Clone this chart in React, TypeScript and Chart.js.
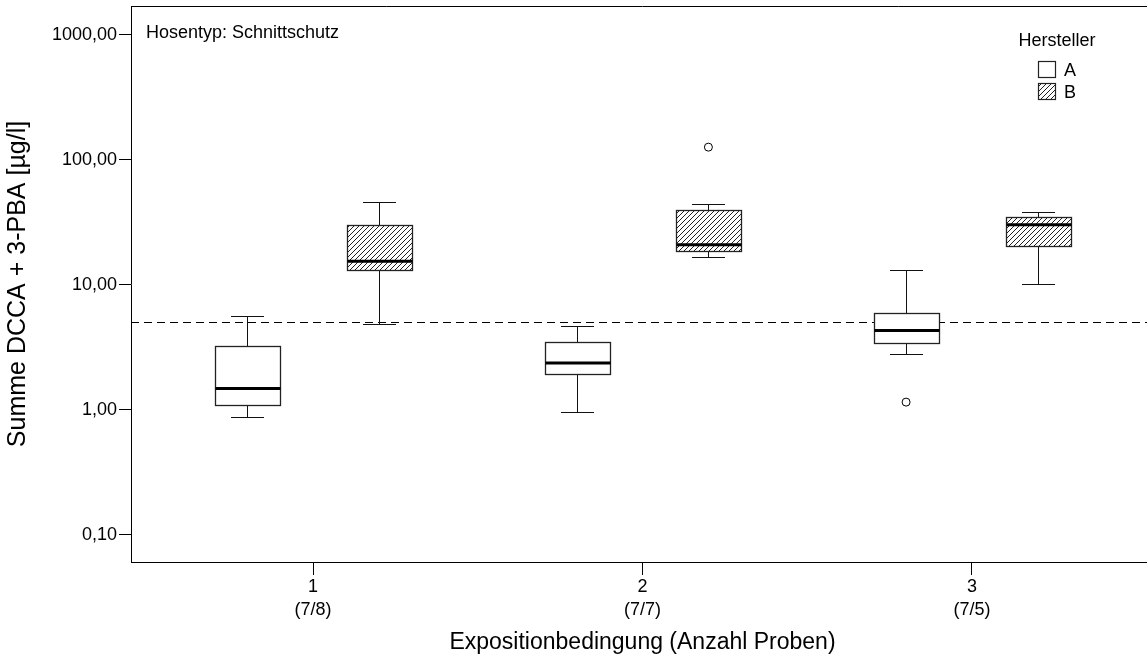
import React, { useEffect, useRef } from 'react';
import { Chart, registerables } from 'chart.js';

Chart.register(...registerables);

const FONT = "'Liberation Sans', Arial, Helvetica, sans-serif";

// Categories (Expositionbedingung) and sample counts (A/B)
const categories = ['1', '2', '3'];
const sampleCounts = ['(7/8)', '(7/7)', '(7/5)'];
const manufacturers = ['A', 'B'];

// Manufacturer A box statistics per category
const aMin = [0.87, 0.95, 2.81];
const aQ1 = [1.1, 1.92, 3.39];
const aMedian = [1.48, 2.36, 4.31];
const aQ3 = [3.23, 3.5, 5.89];
const aMax = [5.65, 4.7, 13.0];
const aOutliers: number[][] = [[], [], [1.15]];

// Manufacturer B box statistics per category
const bMin = [4.88, 16.7, 10.06];
const bQ1 = [13.2, 18.7, 20.4];
const bMedian = [15.4, 20.9, 30.2];
const bQ3 = [30.2, 39.3, 34.8];
const bMax = [46.1, 43.9, 38.4];
const bOutliers: number[][] = [[], [126], []];

const referenceValue = 5;
const yTicks = [0.1, 1, 10, 100, 1000];

const groups = [
  { name: manufacturers[0], offset: -0.2, min: aMin, q1: aQ1, med: aMedian, q3: aQ3, max: aMax, out: aOutliers, hatched: false },
  { name: manufacturers[1], offset: 0.2, min: bMin, q1: bQ1, med: bMedian, q3: bQ3, max: bMax, out: bOutliers, hatched: true },
];

function makeHatch(ctx: CanvasRenderingContext2D) {
  const s = 5;
  const c = document.createElement('canvas');
  c.width = s;
  c.height = s;
  const g = c.getContext('2d')!;
  g.fillStyle = '#fff';
  g.fillRect(0, 0, s, s);
  g.strokeStyle = '#222';
  g.lineWidth = 1;
  g.beginPath();
  g.moveTo(0, s);
  g.lineTo(s, 0);
  g.moveTo(-1, 1);
  g.lineTo(1, -1);
  g.moveTo(s - 1, s + 1);
  g.lineTo(s + 1, s - 1);
  g.stroke();
  return ctx.createPattern(c, 'repeat')!;
}

const crisp = (v: number) => Math.round(v) + 0.5;

export default function App() {
  const ref = useRef<HTMLCanvasElement>(null);

  useEffect(() => {
    const canvas = ref.current!;
    const ctx0 = canvas.getContext('2d')!;
    const hatch = makeHatch(ctx0);

    const boxPlugin = {
      id: 'boxes',
      beforeDatasetsDraw(chart: any) {
        const { ctx, chartArea, scales } = chart;
        const y = crisp(scales.y.getPixelForValue(referenceValue));
        ctx.save();
        ctx.strokeStyle = '#000';
        ctx.lineWidth = 1;
        ctx.setLineDash([8, 5]);
        ctx.beginPath();
        ctx.moveTo(chartArea.left, y);
        ctx.lineTo(chartArea.right, y);
        ctx.stroke();
        ctx.restore();
      },
      afterDatasetsDraw(chart: any) {
        const { ctx, scales } = chart;
        const xs = scales.x;
        const ys = scales.y;
        ctx.save();
        groups.forEach((g) => {
          categories.forEach((_, i) => {
            const xv = i + 1 + g.offset;
            const px = crisp(xs.getPixelForValue(xv));
            const half = xs.getPixelForValue(xv + 0.1) - xs.getPixelForValue(xv);
            const cap = half * 0.5;
            const yMin = crisp(ys.getPixelForValue(g.min[i]));
            const yQ1 = crisp(ys.getPixelForValue(g.q1[i]));
            const yMed = ys.getPixelForValue(g.med[i]);
            const yQ3 = crisp(ys.getPixelForValue(g.q3[i]));
            const yMax = crisp(ys.getPixelForValue(g.max[i]));
            // whiskers
            ctx.strokeStyle = '#111';
            ctx.lineWidth = 1;
            ctx.beginPath();
            ctx.moveTo(px, yMax);
            ctx.lineTo(px, yQ3);
            ctx.moveTo(px, yQ1);
            ctx.lineTo(px, yMin);
            ctx.moveTo(Math.round(px - cap), yMax);
            ctx.lineTo(Math.round(px + cap), yMax);
            ctx.moveTo(Math.round(px - cap), yMin);
            ctx.lineTo(Math.round(px + cap), yMin);
            ctx.stroke();
            // box
            const l = crisp(px - half);
            const r = crisp(px + half);
            ctx.fillStyle = g.hatched ? hatch : '#fff';
            ctx.fillRect(l, yQ3, r - l, yQ1 - yQ3);
            ctx.strokeStyle = '#222';
            ctx.lineWidth = 1.3;
            ctx.strokeRect(l, yQ3, r - l, yQ1 - yQ3);
            // median
            ctx.strokeStyle = '#000';
            ctx.lineWidth = 3;
            ctx.beginPath();
            ctx.moveTo(l, yMed);
            ctx.lineTo(r, yMed);
            ctx.stroke();
          });
        });
        ctx.restore();
      },
      afterDraw(chart: any) {
        const { ctx, chartArea } = chart;
        ctx.save();
        // top / right frame lines
        ctx.strokeStyle = '#000';
        ctx.lineWidth = 1;
        ctx.beginPath();
        ctx.moveTo(chartArea.left, crisp(chartArea.top));
        ctx.lineTo(chartArea.right, crisp(chartArea.top));
        ctx.moveTo(crisp(chartArea.right), chartArea.top);
        ctx.lineTo(crisp(chartArea.right), chartArea.bottom);
        ctx.stroke();
        // annotation
        ctx.fillStyle = '#000';
        ctx.font = `18px ${FONT}`;
        ctx.textBaseline = 'middle';
        ctx.textAlign = 'left';
        ctx.fillText('Hosentyp: Schnittschutz', chartArea.left + 15, chartArea.top + 27);
        // legend
        ctx.textAlign = 'center';
        ctx.fillText('Hersteller', 1057, 41);
        ctx.textAlign = 'left';
        groups.forEach((g, k) => {
          const top = 61 + k * 22;
          ctx.fillStyle = g.hatched ? hatch : '#fff';
          ctx.fillRect(1038.5, top + 0.5, 17, 16);
          ctx.strokeStyle = '#222';
          ctx.lineWidth = 1.2;
          ctx.strokeRect(1038.5, top + 0.5, 17, 16);
          ctx.fillStyle = '#000';
          ctx.fillText(g.name, 1064, top + 10);
        });
        ctx.restore();
      },
    };

    const outlierData = (g: typeof groups[number]) =>
      g.out.flatMap((vals, i) => vals.map((v) => ({ x: i + 1 + g.offset, y: v })));

    const chart = new Chart(canvas, {
      type: 'scatter',
      data: {
        datasets: groups.map((g) => ({
          label: g.name,
          data: outlierData(g),
          pointRadius: 4,
          pointHoverRadius: 4,
          pointBackgroundColor: '#fff',
          pointBorderColor: '#000',
          pointBorderWidth: 1,
        })),
      },
      options: {
        responsive: false,
        animation: false,
        devicePixelRatio: 1,
        layout: { padding: { top: 6, left: 0, right: 6, bottom: 0 } },
        plugins: { legend: { display: false }, tooltip: { enabled: false } },
        scales: {
          x: {
            type: 'linear',
            min: 0.4476,
            max: 3.5524,
            afterBuildTicks: (s: any) => {
              s.ticks = categories.map((_, i) => ({ value: i + 1 }));
            },
            afterFit: (s: any) => {
              s.height = 97;
              s.paddingLeft = 0;
              s.paddingRight = 0;
            },
            ticks: {
              autoSkip: false,
              maxRotation: 0,
              padding: 1,
              color: '#000',
              font: { family: FONT, size: 18, lineHeight: 1.25 },
              callback: (v: any) => {
                const i = Math.round(Number(v)) - 1;
                return [categories[i], sampleCounts[i]];
              },
            },
            grid: { drawOnChartArea: false, drawTicks: true, tickLength: 13, color: '#000', lineWidth: 1 },
            border: { display: true, color: '#000', width: 1 },
            title: {
              display: true,
              text: 'Expositionbedingung (Anzahl Proben)',
              color: '#000',
              font: { family: FONT, size: 23, lineHeight: 1.2 },
              padding: { top: 4, bottom: 3 },
            },
          },
          y: {
            type: 'logarithmic',
            min: 0.0605,
            max: 1696,
            afterBuildTicks: (s: any) => {
              s.ticks = yTicks.map((v) => ({ value: v }));
            },
            afterFit: (s: any) => {
              s.width = 131;
              s.paddingTop = 0;
              s.paddingBottom = 0;
            },
            ticks: {
              autoSkip: false,
              padding: 2,
              color: '#000',
              font: { family: FONT, size: 18 },
              callback: (v: any) => Number(v).toFixed(2).replace('.', ','),
            },
            grid: { drawOnChartArea: false, drawTicks: true, tickLength: 12, color: '#000', lineWidth: 1 },
            border: { display: true, color: '#000', width: 1 },
            title: {
              display: true,
              text: 'Summe DCCA + 3-PBA [µg/l]',
              color: '#000',
              font: { family: FONT, size: 25, lineHeight: 1.2 },
              padding: { top: 3, bottom: 4 },
            },
          },
        },
      },
      plugins: [boxPlugin],
    } as any);

    return () => chart.destroy();
  }, []);

  return (
    <div
      style={{
        position: 'fixed',
        left: 0,
        top: 0,
        width: 1147,
        height: 659,
        overflow: 'hidden',
        background: '#fff',
      }}
    >
      <canvas ref={ref} width={1160} height={659} style={{ display: 'block' }} />
    </div>
  );
}
